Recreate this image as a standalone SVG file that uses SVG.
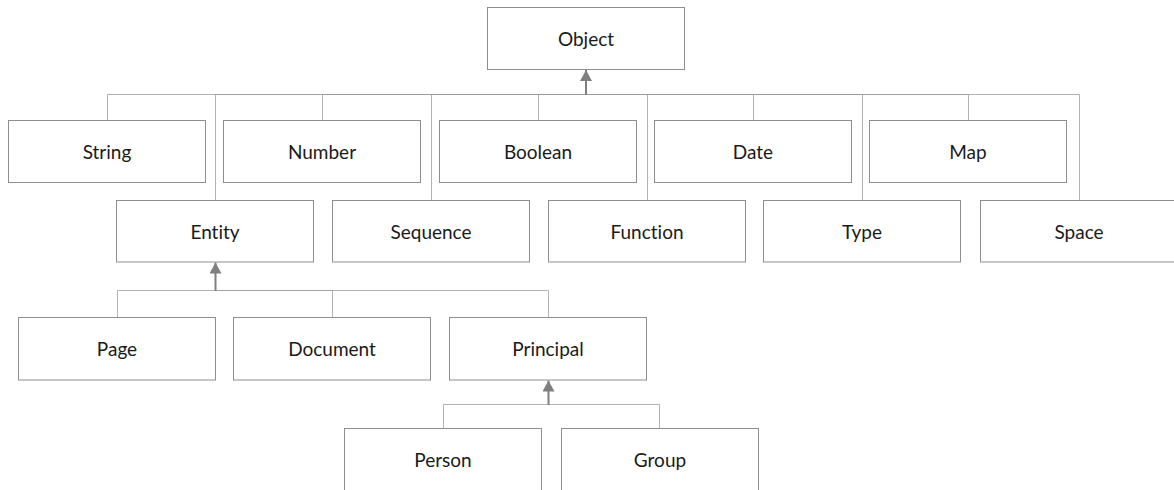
<svg xmlns="http://www.w3.org/2000/svg" width="1174" height="490" viewBox="0 0 1174 490">
  <style>
    .box rect { fill: #ffffff; stroke: #8e8e8e; stroke-width: 1; }
    .box text { font-family: Lato, "Liberation Sans", sans-serif; font-size: 19px; fill: #1a1a1a; text-anchor: middle; font-variant-ligatures: none; }
    .branch { fill: none; stroke: #9a9a9a; stroke-width: 1; stroke-opacity: 0.75; }
    .trunk { fill: none; stroke: #7f7f7f; stroke-width: 2; }
  </style>
  <defs>
    <marker id="inherit" markerUnits="userSpaceOnUse" markerWidth="11" markerHeight="12" refX="11" refY="6" orient="auto" viewBox="0 0 11 12">
      <path d="M0,0 L11,6 L0,12 Z" fill="#7f7f7f"/>
    </marker>
  </defs>
  <rect width="1174" height="490" fill="#ffffff"/>

  <!-- inheritance connectors -->
  <g id="connectors">
    <!-- children of Object -->
    <path class="branch" d="M107.5 120.5 V94.5 H586"/>
    <path class="branch" d="M322.5 120.5 V94.5 H586"/>
    <path class="branch" d="M538.5 120.5 V94.5 H586"/>
    <path class="branch" d="M753.5 120.5 V94.5 H586"/>
    <path class="branch" d="M968.5 120.5 V94.5 H586"/>
    <path class="branch" d="M215.5 200.5 V94.5 H586"/>
    <path class="branch" d="M431.5 200.5 V94.5 H586"/>
    <path class="branch" d="M647.5 200.5 V94.5 H586"/>
    <path class="branch" d="M862.5 200.5 V94.5 H586"/>
    <path class="branch" d="M1079.5 200.5 V94.5 H586"/>
    <path class="trunk" d="M586 95 V70" marker-end="url(#inherit)"/>
    <!-- children of Entity -->
    <path class="branch" d="M117.5 317.5 V290.5 H215.5"/>
    <path class="branch" d="M332.5 317.5 V290.5 H215.5"/>
    <path class="branch" d="M548.5 317.5 V290.5 H215.5"/>
    <path class="trunk" d="M215.5 291 V262.5" marker-end="url(#inherit)"/>
    <!-- children of Principal -->
    <path class="branch" d="M443.5 428.5 V404.5 H548.5"/>
    <path class="branch" d="M659.5 428.5 V404.5 H548.5"/>
    <path class="trunk" d="M548.5 405 V380.5" marker-end="url(#inherit)"/>
  </g>

  <g id="node-object" class="box"><rect x="487.5" y="7.5" width="197" height="62"/><text x="586" y="45.5">Object</text></g>

  <g id="node-string" class="box"><rect x="8.5" y="120.5" width="197" height="62"/><text x="107" y="158.5">String</text></g>
  <g id="node-number" class="box"><rect x="223.5" y="120.5" width="197" height="62"/><text x="322" y="158.5">Number</text></g>
  <g id="node-boolean" class="box"><rect x="439.5" y="120.5" width="197" height="62"/><text x="538" y="158.5">Boolean</text></g>
  <g id="node-date" class="box"><rect x="654.5" y="120.5" width="197" height="62"/><text x="753" y="158.5">Date</text></g>
  <g id="node-map" class="box"><rect x="869.5" y="120.5" width="197" height="62"/><text x="968" y="158.5">Map</text></g>

  <g id="node-entity" class="box"><rect x="116.5" y="200.5" width="197" height="61.5"/><text x="215" y="238.5">Entity</text></g>
  <g id="node-sequence" class="box"><rect x="332.5" y="200.5" width="197" height="61.5"/><text x="431" y="238.5">Sequence</text></g>
  <g id="node-function" class="box"><rect x="548.5" y="200.5" width="197" height="61.5"/><text x="647" y="238.5">Function</text></g>
  <g id="node-type" class="box"><rect x="763.5" y="200.5" width="197" height="61.5"/><text x="862" y="238.5">Type</text></g>
  <g id="node-space" class="box"><rect x="980.5" y="200.5" width="197" height="61.5"/><text x="1079" y="238.5">Space</text></g>

  <g id="node-page" class="box"><rect x="18.5" y="317.5" width="197" height="62.5"/><text x="117" y="355.5">Page</text></g>
  <g id="node-document" class="box"><rect x="233.5" y="317.5" width="197" height="62.5"/><text x="332" y="355.5">Document</text></g>
  <g id="node-principal" class="box"><rect x="449.5" y="317.5" width="197" height="62.5"/><text x="548" y="355.5">Principal</text></g>

  <g id="node-person" class="box"><rect x="344.5" y="428.5" width="197" height="70"/><text x="443" y="466.5">Person</text></g>
  <g id="node-group" class="box"><rect x="561.5" y="428.5" width="197" height="70"/><text x="660" y="466.5">Group</text></g>
</svg>
